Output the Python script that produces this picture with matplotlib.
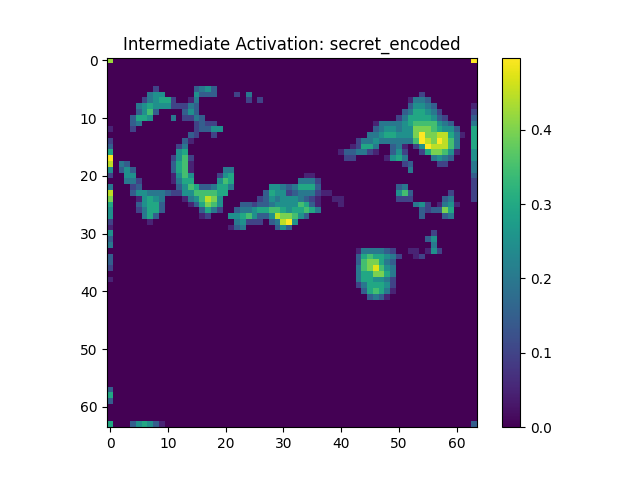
import numpy as np
import matplotlib
matplotlib.use('Agg')
import matplotlib.pyplot as plt

# levels, one level = 0.0497 of activation
LEVEL = 0.0497

# (row, first column, levels)
upper_left = [
    (5, 8, [2]), (5, 15, [3, 4, 5, 3]),
    (6, 7, [4, 5, 5]), (6, 15, [5, 3, 3, 3]), (6, 22, [2]), (6, 24, [4]),
    (7, 6, [2, 4, 5, 6, 6, 2]), (7, 14, [1, 4]), (7, 24, [2]), (7, 26, [2]),
    (8, 5, [4, 5, 6, 5, 5, 5, 2, 2, 2, 4, 3]),
    (9, 5, [3, 5, 7, 3]), (9, 13, [3, 5, 3]),
    (10, 4, [3, 6, 6, 5]), (10, 11, [4]), (10, 13, [2, 2, 4, 3]),
    (11, 4, [3, 4]), (11, 15, [2, 3, 2, 2]),
    (12, 4, [2]), (12, 15, [2, 3, 3, 5, 5]),
    (13, 14, [3, 2]), (13, 18, [2]),
    (14, 13, [3, 1]),
    (15, 12, [2, 4]),
    (16, 12, [5, 6]),
    (17, 11, [2, 5, 7, 2]),
    (18, 2, [4, 3]), (18, 11, [3, 6, 7, 1]),
    (19, 2, [3, 5, 3]), (19, 11, [3, 6, 7, 1]), (19, 20, [4, 4]),
    (20, 3, [5, 5]), (20, 11, [1, 5, 7, 5]), (20, 19, [2, 5, 6]),
    (21, 3, [4, 4, 2]), (21, 11, [1, 4, 6, 6]), (21, 19, [5, 7, 6]),
    (22, 4, [2, 3]), (22, 12, [3, 5, 7, 6, 3, 3, 4, 6, 6, 4]), (22, 28, [5, 5, 4]),
    (23, 4, [3, 5, 5, 4, 4, 4, 3, 2, 2, 5, 5, 7, 7, 7, 7, 6, 6]), (23, 27, [3, 6, 5, 5, 2]),
    (24, 5, [1, 5, 6, 5, 4]), (24, 13, [1, 4, 5, 7, 9, 8, 5]), (24, 26, [2, 3, 5, 4, 5, 5]),
    (25, 5, [3, 5, 6, 6, 3]), (25, 14, [1, 3, 6, 8, 7, 5]), (25, 23, [3, 3, 2, 3, 3, 4, 5, 5, 5]),
    (26, 5, [2, 4, 6, 6, 3]), (26, 16, [3, 6, 4, 2]), (26, 22, [3, 4, 4, 5, 6, 6, 7, 7, 6, 5]),
    (27, 6, [4, 6, 3]), (27, 16, [1, 2]), (27, 21, [5, 5, 6, 7, 5, 3, 3, 5, 9, 8, 8]),
    (28, 7, [1]), (28, 22, [4, 5, 2, 2, 2]), (28, 28, [3, 4, 9, 10]),
    (29, 21, [1, 3, 4]), (29, 29, [3, 5, 3]),
]

upper_right = [
    (6, 54, [2]),
    (7, 52, [1, 4, 4, 3]),
    (8, 52, [3, 5, 5, 4, 3]),
    (9, 51, [3, 4, 6, 6, 5, 4, 2]),
    (10, 50, [2, 4, 6, 6, 6, 6, 5, 3, 2]),
    (11, 46, [1, 4, 4, 4, 4, 5, 6, 7, 7, 7, 7, 5, 4, 3]),
    (12, 46, [3, 4, 5, 5, 4, 5, 5, 8, 8, 8, 7, 6, 5, 5, 3]),
    (13, 45, [4, 4, 5, 6, 6, 5, 5, 5, 8, 10, 8, 8, 9, 9, 6, 4, 1]),
    (14, 43, [2, 4, 4, 5, 4, 4, 4, 4, 4, 4, 7, 10, 9, 8, 10, 9, 7, 4]),
    (15, 42, [1, 2, 6, 6, 4]), (15, 49, [3, 4, 1]), (15, 53, [2, 5, 10, 9, 9, 9, 7, 4]),
    (16, 40, [1, 3, 3, 4, 4, 2, 1]), (16, 49, [3, 5, 2]), (16, 54, [2, 6, 8, 8, 7, 5, 1]),
    (17, 41, [2, 2]), (17, 48, [1, 5, 6, 4]), (17, 56, [4, 5, 4, 3]),
    (18, 51, [2, 3]), (18, 57, [2, 2]),
    (19, 52, [4]),
    (20, 34, [1, 1]),
    (21, 33, [4, 4, 4, 2]),
    (22, 31, [3, 4, 6, 6, 6, 3]), (22, 50, [3, 4]),
    (23, 31, [2, 3, 4, 4, 4, 2, 1]), (23, 38, [1]), (23, 50, [5, 7, 3]), (23, 59, [2]),
    (24, 31, [5, 5, 4, 3, 2, 1]), (24, 39, [1, 1]), (24, 50, [2, 2, 2]), (24, 58, [3, 4]),
    (25, 31, [5, 5, 7, 6, 3, 1]), (25, 40, [1]), (25, 53, [4, 5, 2]), (25, 57, [1, 4, 5, 1]),
    (26, 32, [6, 6, 7, 6, 4]), (26, 54, [3, 2, 3, 3, 8, 6]),
    (27, 32, [7, 5, 3]), (27, 54, [3]), (27, 58, [3, 4]),
    (28, 32, [5]),
    (30, 56, [2]),
    (31, 55, [3, 5]),
    (32, 56, [4]),
    (33, 52, [1, 1]), (33, 55, [1, 5, 2]),
    (34, 53, [1, 2]),
]

lower_blob = [
    (33, 43, [1, 4, 4, 4, 4, 3, 2]),
    (34, 43, [3, 6, 7, 6, 6, 5, 4, 2]),
    (35, 43, [3, 7, 8, 8, 6, 4, 3]),
    (36, 43, [4, 7, 8, 9.5, 7, 5, 4]),
    (37, 43, [4, 6, 6, 8, 8, 6, 4]),
    (38, 43, [4, 6, 6, 5, 5, 4, 2]),
    (39, 43, [2, 4, 6, 6, 6, 5, 2]),
    (40, 44, [3, 6, 7, 6, 4, 1]),
    (41, 45, [3, 4, 3, 1]),
]

bottom_edge = [(63, 0, [6]), (63, 4, [3, 5, 6, 5, 3, 1]), (63, 63, [3]), (0, 0, [8.5]), (0, 63, [10])]

# the two side columns, row: level
left_edge = {12: 1, 14: 2, 15: 3, 16: 6, 17: 10, 18: 9, 19: 5, 20: 2, 22: 4, 23: 9, 24: 8,
             25: 6, 26: 5, 27: 5, 28: 2, 29: 1, 30: 5, 31: 3, 32: 4, 34: 3, 35: 3, 36: 2,
             38: 1, 57: 3, 58: 6, 59: 3}
right_edge = {8: 1, 9: 2, 10: 3, 11: 4, 12: 6, 13: 6, 14: 6, 15: 6, 16: 5, 17: 5, 18: 4,
              19: 4, 20: 3, 21: 2, 22: 2, 23: 2, 24: 2}

grid = np.zeros((64, 64))
for row, col, levels in upper_left + upper_right + lower_blob + bottom_edge:
    grid[row, col:col + len(levels)] = levels
for row, level in left_edge.items():
    grid[row, 0] = level
for row, level in right_edge.items():
    grid[row, 63] = level

plt.imshow(grid * LEVEL, cmap='viridis')
plt.title('Intermediate Activation: secret_encoded')
plt.colorbar()
plt.savefig('out.png', dpi=100)
